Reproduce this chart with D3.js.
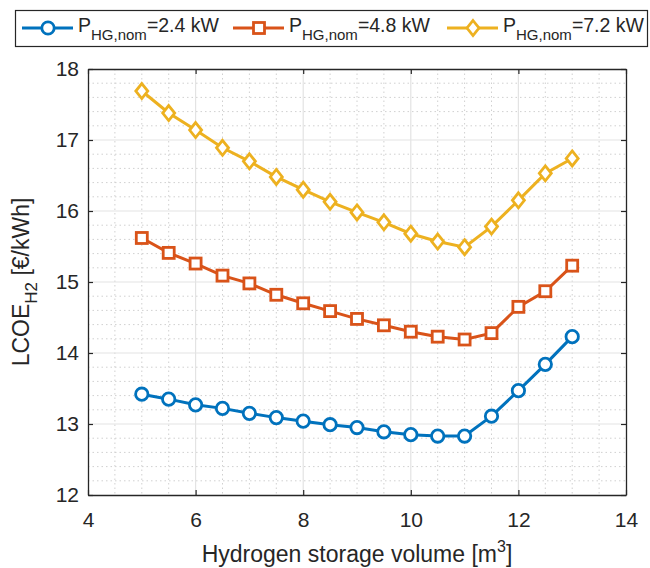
<!DOCTYPE html>
<html>
<head>
<meta charset="utf-8">
<script src="https://cdn.jsdelivr.net/npm/d3@7"></script>
<style>
  body { margin: 0; background: #fff; }
  svg text { font-family: "Liberation Sans", Arial, sans-serif; fill: #262626; }
</style>
</head>
<body>
<div id="chart"></div>
<script>
// storage volumes [m3]
const volumes = [5, 5.5, 6, 6.5, 7, 7.5, 8, 8.5, 9, 9.5, 10, 10.5, 11, 11.5, 12, 12.5, 13];
// LCOE values [EUR/kWh] per nominal HG power
const lcoe24 = [13.42, 13.35, 13.27, 13.22, 13.15, 13.09, 13.04, 12.99, 12.95, 12.89, 12.85, 12.83, 12.83, 13.11, 13.47, 13.84, 14.23];
const lcoe48 = [15.62, 15.41, 15.26, 15.09, 14.98, 14.82, 14.70, 14.59, 14.48, 14.39, 14.30, 14.23, 14.19, 14.28, 14.65, 14.87, 15.23];
const lcoe72 = [17.69, 17.38, 17.14, 16.89, 16.70, 16.48, 16.30, 16.13, 15.98, 15.84, 15.68, 15.57, 15.49, 15.78, 16.15, 16.53, 16.74];
const seriesNames = ["=2.4 kW", "=4.8 kW", "=7.2 kW"];
const xTicks = [4, 6, 8, 10, 12, 14];
const yTicks = [12, 13, 14, 15, 16, 17, 18];

const colors = ["#0072BD", "#D95319", "#EDB120"];
const markers = ["circle", "square", "diamond"];

const W = 650, H = 568;
const margin = {top: 69, right: 24, bottom: 73, left: 88};
const width = W - margin.left - margin.right,
    height = H - margin.top - margin.bottom;

const svgRoot = d3.select("#chart").append("svg")
    .attr("width", W).attr("height", H);
const svg = svgRoot.append("g")
    .attr("transform", "translate(" + margin.left + "," + margin.top + ")");

const x = d3.scaleLinear().domain([4, 14]).range([0, width]);
const y = d3.scaleLinear().domain([12, 18]).range([height, 0]);

// minor grid (dotted)
svg.append("g").selectAll("line")
    .data(d3.range(4.5, 14, 0.5).filter(v => Math.abs(v % 2) > 1e-6))
    .enter().append("line")
    .attr("x1", d => x(d)).attr("x2", d => x(d))
    .attr("y1", 0).attr("y2", height)
    .attr("stroke", "#d0d0d0").attr("stroke-width", 1)
    .attr("stroke-dasharray", "1.5,3");
svg.append("g").selectAll("line")
    .data(d3.range(12.2, 18, 0.2).filter(v => Math.abs(v - Math.round(v)) > 1e-6))
    .enter().append("line")
    .attr("y1", d => y(d)).attr("y2", d => y(d))
    .attr("x1", 0).attr("x2", width)
    .attr("stroke", "#d0d0d0").attr("stroke-width", 1)
    .attr("stroke-dasharray", "1.5,3");

// major grid
svg.append("g").selectAll("line")
    .data(xTicks.slice(1, -1))
    .enter().append("line")
    .attr("x1", d => x(d)).attr("x2", d => x(d))
    .attr("y1", 0).attr("y2", height)
    .attr("stroke", "#e3e3e3").attr("stroke-width", 1.2);
svg.append("g").selectAll("line")
    .data(yTicks.slice(1, -1))
    .enter().append("line")
    .attr("y1", d => y(d)).attr("y2", d => y(d))
    .attr("x1", 0).attr("x2", width)
    .attr("stroke", "#e3e3e3").attr("stroke-width", 1.2);

// axes (ticks pointing inward, box on all sides)
svg.append("g")
    .attr("transform", "translate(0," + height + ")")
    .call(d3.axisBottom(x).tickValues(xTicks).tickFormat(d3.format("d"))
        .tickSize(-5).tickPadding(17).tickSizeOuter(0));
svg.append("g")
    .call(d3.axisLeft(y).tickValues(yTicks).tickFormat(d3.format("d"))
        .tickSize(-5).tickPadding(9).tickSizeOuter(0));
svg.append("g")
    .call(d3.axisTop(x).tickValues(xTicks).tickSize(-5).tickFormat("").tickSizeOuter(0));
svg.append("g")
    .attr("transform", "translate(" + width + ",0)")
    .call(d3.axisRight(y).tickValues(yTicks).tickSize(-5).tickFormat("").tickSizeOuter(0));
svg.selectAll(".domain").attr("stroke", "#262626").attr("stroke-width", 1.3);
svg.selectAll(".tick line").attr("stroke", "#262626").attr("stroke-width", 1.2);
svg.selectAll(".tick text").style("font-size", "21px")
    .style("font-family", "'Liberation Sans', Arial, sans-serif").attr("fill", "#262626");

// axis labels
const xl = svgRoot.append("text")
    .attr("x", margin.left + width / 2).attr("y", 562)
    .attr("text-anchor", "middle").style("font-size", "23px");
xl.append("tspan").text("Hydrogen storage volume [m");
xl.append("tspan").attr("dy", -10).style("font-size", "16px").text("3");
xl.append("tspan").attr("dy", 10).text("]");

const yl = svgRoot.append("text")
    .attr("transform", "translate(29," + (margin.top + height / 2) + ") rotate(-90)")
    .attr("text-anchor", "middle").style("font-size", "23px");
yl.append("tspan").text("LCOE");
yl.append("tspan").attr("dy", 8).style("font-size", "17px").text("H2");
yl.append("tspan").attr("dy", -8).text(" [€/kWh]");

// markers
function drawMarker(g, type, cx, cy, color) {
    if (type === "circle") {
        g.append("circle").attr("cx", cx).attr("cy", cy).attr("r", 6.2)
            .attr("fill", "#fff").attr("stroke", color).attr("stroke-width", 2.8);
    } else if (type === "square") {
        g.append("rect").attr("x", cx - 5.5).attr("y", cy - 5.5)
            .attr("width", 11).attr("height", 11)
            .attr("fill", "#fff").attr("stroke", color).attr("stroke-width", 2.8);
    } else {
        g.append("path")
            .attr("d", "M" + cx + "," + (cy - 7.5) + "L" + (cx + 6) + "," + cy +
                "L" + cx + "," + (cy + 7.5) + "L" + (cx - 6) + "," + cy + "Z")
            .attr("fill", "#fff").attr("stroke", color).attr("stroke-width", 2.8);
    }
}

const allSeries = [lcoe24, lcoe48, lcoe72];
const line = d3.line().x(d => x(d[0])).y(d => y(d[1]));
allSeries.forEach(function (vals, i) {
    const pts = volumes.map((v, j) => [v, vals[j]]);
    const g = svg.append("g");
    g.append("path").datum(pts)
        .attr("d", line)
        .attr("fill", "none").attr("stroke", colors[i]).attr("stroke-width", 3);
    pts.forEach(p => drawMarker(g, markers[i], x(p[0]), y(p[1]), colors[i]));
});

// legend
const leg = svgRoot.append("g");
leg.append("rect").attr("x", 15.5).attr("y", 10.5).attr("width", 632).attr("height", 36)
    .attr("fill", "#fff").attr("stroke", "#262626").attr("stroke-width", 1.2);
const legX = [22, 233, 447];
seriesNames.forEach(function (name, i) {
    const lx = legX[i], ly = 28;
    leg.append("line").attr("x1", lx).attr("x2", lx + 51).attr("y1", ly).attr("y2", ly)
        .attr("stroke", colors[i]).attr("stroke-width", 3);
    drawMarker(leg, markers[i], lx + 26, ly, colors[i]);
    const t = leg.append("text").attr("x", lx + 56).attr("y", 32).style("font-size", "19.5px");
    t.append("tspan").text("P");
    t.append("tspan").attr("dy", 8).style("font-size", "15px").text("HG,nom");
    t.append("tspan").attr("dy", -8).text(name);
});
</script>
</body>
</html>
